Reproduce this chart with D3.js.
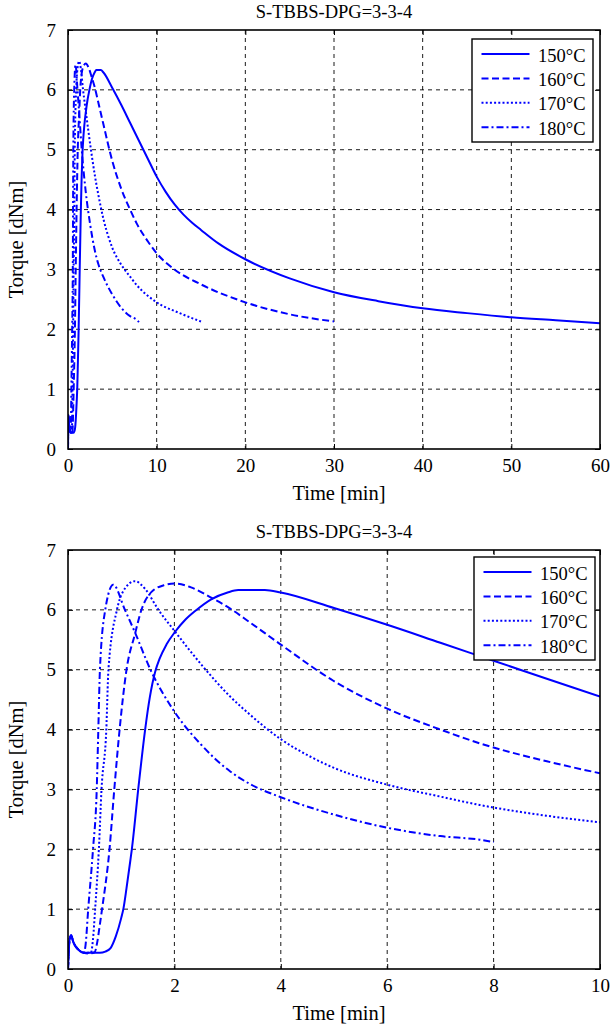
<!DOCTYPE html>
<html><head><meta charset="utf-8">
<script src="https://cdn.jsdelivr.net/npm/d3@7"></script>
<style>
body{margin:0;background:#fff;}
svg text{font-family:"Liberation Serif","Times New Roman",serif;fill:#000;}
</style></head>
<body>
<svg id="c" width="610" height="1027" font-family="Liberation Serif"></svg>
<script>
// ---- data ----
const seriesNames = ["150°C","160°C","170°C","180°C"];
const chartTitle = "S-TBBS-DPG=3-3-4";
const xLabel = "Time [min]";
const yLabel = "Torque [dNm]";

const t150 = [0,0.03,0.06,0.1,0.2,0.3,0.4,0.5,0.6,0.7,0.8,0.9,1.0,1.04,1.1,1.17,1.2,1.32,1.45,1.54,1.64,1.72,1.85,2.01,2.2,2.39,2.7,3.0,3.2,3.7,4,5,6,7,8,9,10,11,12,13,14,15,17,20,25,30,35,40,45,50,55,60];
const T150 = [0,0.5,0.57,0.45,0.32,0.27,0.27,0.27,0.27,0.29,0.35,0.55,0.85,1.0,1.35,1.8,2.0,3.0,4.0,4.55,4.97,5.18,5.42,5.63,5.83,5.98,6.18,6.29,6.33,6.33,6.29,6.03,5.75,5.45,5.15,4.85,4.55,4.3,4.09,3.92,3.78,3.66,3.43,3.17,2.85,2.62,2.47,2.35,2.27,2.2,2.15,2.1];

const t160 = [0,0.03,0.06,0.1,0.2,0.3,0.4,0.5,0.55,0.6,0.64,0.78,0.87,0.97,1.1,1.26,1.38,1.57,1.8,2.01,2.3,2.7,3.0,3.42,4,4.98,6,7,7.74,9,10,12,15,20,25,30];
const T160 = [0,0.5,0.55,0.45,0.32,0.27,0.26,0.28,0.45,0.75,1.0,2.0,3.0,4.0,5.0,5.6,6.0,6.3,6.41,6.44,6.38,6.2,6.05,5.79,5.42,4.82,4.35,4.0,3.77,3.47,3.27,3.0,2.75,2.45,2.25,2.13];

const t170 = [0,0.03,0.06,0.1,0.2,0.3,0.43,0.47,0.51,0.58,0.63,0.72,0.76,0.92,1.03,1.26,1.45,1.7,2.0,2.54,3.05,3.42,3.7,4,4.55,5,6,7,7.74,9,10,12.6,15];
const T170 = [0,0.5,0.55,0.45,0.32,0.27,0.27,0.5,1.0,2.0,3.0,4.0,5.0,6.0,6.3,6.48,6.35,6.0,5.65,5.05,4.55,4.25,4.04,3.84,3.55,3.36,3.08,2.88,2.74,2.56,2.45,2.27,2.13];

const t180 = [0,0.03,0.06,0.1,0.2,0.3,0.33,0.38,0.47,0.54,0.57,0.6,0.7,0.85,1.07,1.26,1.55,2.0,2.5,3.05,3.42,4,5,6,7,7.74,8];
const T180 = [0,0.5,0.55,0.45,0.32,0.27,0.4,1.0,2.0,3.0,4.0,5.0,6.0,6.42,6.0,5.62,5.0,4.3,3.75,3.3,3.09,2.87,2.58,2.36,2.22,2.16,2.12];

const xTicksTop = [0,10,20,30,40,50,60];
const xTicksBottom = [0,2,4,6,8,10];
const yTicks = [0,1,2,3,4,5,6,7];

const times = [t150,t160,t170,t180];
const torques = [T150,T160,T170,T180];
const dashes = [null,"7,3.5","2,2.2","7,3,2,3"];

const svg = d3.select("#c");
const FONT = "Liberation Serif";

function drawPanel(top, xMax, xTicks, legX, legY){
  const L = 68, R = 600, B = top + 419;
  const x = d3.scaleLinear().domain([0,xMax]).range([L,R]);
  const y = d3.scaleLinear().domain([0,7]).range([B,top]);
  const g = svg.append("g");
  // grid
  g.selectAll(".gx").data(xTicks.slice(1,-1)).enter().append("line")
    .attr("x1",d=>x(d)).attr("x2",d=>x(d)).attr("y1",top).attr("y2",B)
    .attr("stroke","#000").attr("stroke-width",0.9).attr("stroke-dasharray","4,4");
  g.selectAll(".gy").data(yTicks.slice(1,-1)).enter().append("line")
    .attr("y1",d=>y(d)).attr("y2",d=>y(d)).attr("x1",L).attr("x2",R)
    .attr("stroke","#000").attr("stroke-width",0.9).attr("stroke-dasharray","4,4");
  // axes (inward ticks)
  const xb = g.append("g").attr("transform",`translate(0,${B})`)
    .call(d3.axisBottom(x).tickValues(xTicks).tickSize(-5).tickPadding(9.5).tickFormat(d3.format("d")));
  const xt = g.append("g").attr("transform",`translate(0,${top})`)
    .call(d3.axisTop(x).tickValues(xTicks).tickSize(-5).tickFormat(""));
  const yl = g.append("g").attr("transform",`translate(${L},0)`)
    .call(d3.axisLeft(y).tickValues(yTicks).tickSize(-5).tickPadding(12).tickFormat(d3.format("d")));
  const yr = g.append("g").attr("transform",`translate(${R},0)`)
    .call(d3.axisRight(y).tickValues(yTicks).tickSize(-5).tickFormat(""));
  [xb,xt,yl,yr].forEach(a=>{a.select(".domain").remove(); a.attr("font-family",FONT);
    a.selectAll("line").attr("stroke","#000");
    a.selectAll("text").style("font-size","19px").style("font-family",FONT);});
  // curves
  const clip = "clip"+top;
  svg.append("clipPath").attr("id",clip).append("rect").attr("x",L).attr("y",top).attr("width",R-L).attr("height",B-top);
  const line = d3.line().x(d=>x(d[0])).y(d=>y(d[1])).curve(d3.curveMonotoneX);
  times.forEach((ts,i)=>{
    const pts = ts.map((t,j)=>[t,torques[i][j]]).filter(p=>p[0]<=xMax);
    g.append("path").attr("d",line(pts)).attr("fill","none").attr("stroke","#0000ff")
      .attr("stroke-width",2).attr("stroke-dasharray",dashes[i]).attr("clip-path",`url(#${clip})`);
  });
  // box
  g.append("rect").attr("x",L).attr("y",top).attr("width",R-L).attr("height",B-top)
    .attr("fill","none").attr("stroke","#000").attr("stroke-width",1.6);
  // title & labels
  g.append("text").attr("x",334).attr("y",top-12).attr("text-anchor","middle").style("font-size","18.5px").text(chartTitle);
  g.append("text").attr("x",339).attr("y",B+51).attr("text-anchor","middle").style("font-size","20.5px").text(xLabel);
  g.append("text").attr("transform",`translate(23,${(top+B)/2}) rotate(-90)`).attr("text-anchor","middle").style("font-size","20.5px").text(yLabel);
  // legend
  const lw = 121, lh = 103;
  g.append("rect").attr("x",legX).attr("y",legY).attr("width",lw).attr("height",lh)
    .attr("fill","#fff").attr("stroke","#000").attr("stroke-width",1.4);
  seriesNames.forEach((s,i)=>{
    const yy = legY + 15 + i*24.4;
    g.append("line").attr("x1",legX+9.5).attr("x2",legX+57.5).attr("y1",yy).attr("y2",yy)
      .attr("stroke","#0000ff").attr("stroke-width",2).attr("stroke-dasharray",dashes[i]);
    g.append("text").attr("x",legX+66).attr("y",yy+7.5).style("font-size","18.5px").text(s);
  });
}
drawPanel(30, 60, xTicksTop, 472, 39);
drawPanel(550, 10, xTicksBottom, 474, 557);
</script>
</body></html>
